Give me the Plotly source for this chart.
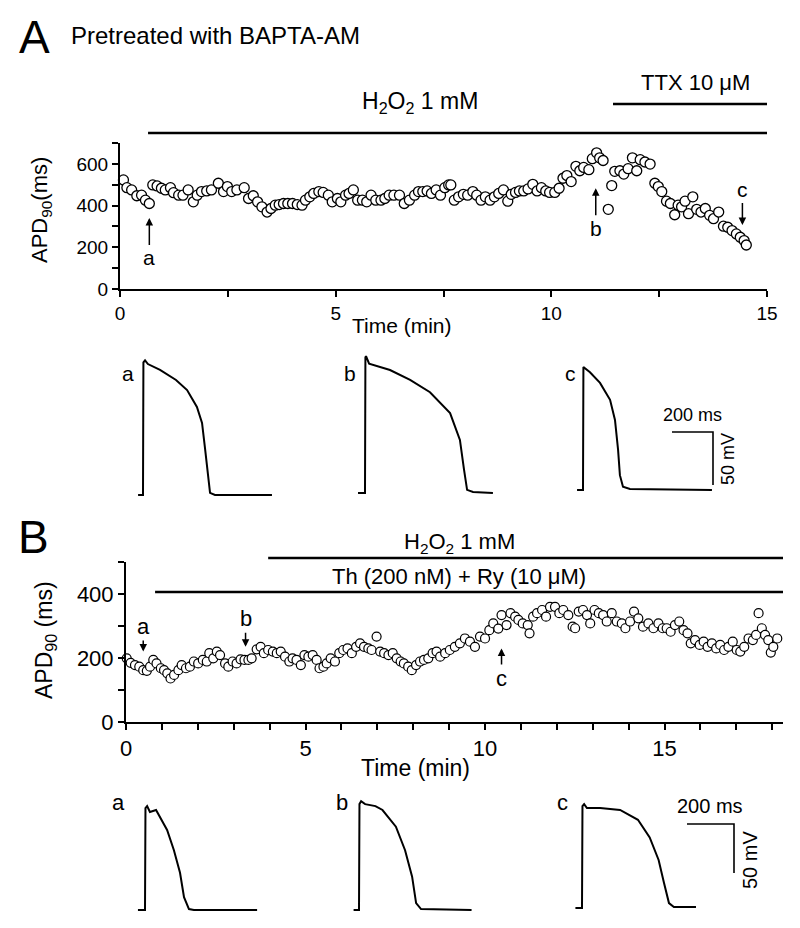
import plotly.graph_objects as go

W, H = 800, 928
FONT = "Liberation Sans, Arial, sans-serif"

# ---------------- data: panel A (APD90 vs time, BAPTA-AM) ----------------
a_time = [0.08, 0.16, 0.27, 0.39, 0.50, 0.59, 0.68, 0.76, 0.86, 0.96, 1.05, 1.17, 1.24, 1.36, 1.46,
          1.58, 1.70, 1.79, 1.89, 2.01, 2.12, 2.28, 2.40, 2.49, 2.59, 2.71, 2.88, 2.98, 3.09, 3.19,
          3.29, 3.41, 3.50, 3.60, 3.69, 3.79, 3.89, 4.00, 4.11, 4.22, 4.30, 4.40, 4.49, 4.61, 4.71,
          4.83, 4.92, 5.04, 5.12, 5.23, 5.31, 5.41, 5.51, 5.62, 5.72, 5.82, 5.93, 6.05, 6.14, 6.24,
          6.35, 6.48, 6.59, 6.71, 6.83, 6.92, 7.02, 7.12, 7.22, 7.33, 7.43, 7.53, 7.62,
          7.67, 7.75, 7.85, 7.96, 8.06, 8.18, 8.27, 8.37, 8.47, 8.58, 8.68, 8.78, 8.89, 8.99, 9.07,
          9.17, 9.26, 9.36, 9.46, 9.57, 9.67, 9.77, 9.87, 9.96, 10.08, 10.18, 10.27, 10.36, 10.46,
          10.57, 10.66, 10.75, 10.87, 10.95, 11.05, 11.12, 11.20, 11.32, 11.40, 11.47, 11.59, 11.68,
          11.78, 11.88, 11.98, 12.06, 12.17, 12.29, 12.40, 12.48, 12.56, 12.67, 12.76, 12.86, 12.94,
          13.02, 13.10, 13.18, 13.28, 13.37, 13.47, 13.57, 13.67, 13.76, 13.88, 13.99, 14.09, 14.19,
          14.29, 14.38, 14.47, 14.52]
a_apd = [523, 486, 475, 447, 450, 426, 410, 499, 494, 483, 475, 486, 462, 450, 450,
         475, 418, 450, 467, 470, 475, 507, 467, 491, 467, 475, 486, 434, 447, 418,
         394, 369, 386, 402, 405, 410, 410, 410, 405, 402, 426, 442, 458, 467, 463,
         450, 418, 434, 418, 450, 458, 475, 426, 426, 418, 450, 426, 426, 434, 450,
         450, 450, 410, 426, 450, 467, 467, 470, 458, 475, 450, 486, 499,
         499, 426, 442, 454, 450, 467, 450, 426, 442, 426, 442, 458, 475, 421, 454,
         463, 470, 470, 480, 502, 470, 486, 470, 463, 463, 483, 531, 544, 515,
         588, 567, 583, 572, 625, 653, 629, 616, 382, 496, 564, 567, 551,
         577, 629, 567, 620, 609, 599, 507, 491, 467, 421, 410, 356, 402,
         394, 421, 361, 442, 382, 369, 386, 353, 337, 369, 301, 296, 280,
         264, 248, 232, 211]

# ---------------- data: panel B (APD90 vs time, Th + Ry) ----------------
b_time = [0.02, 0.13, 0.25, 0.37, 0.48, 0.58, 0.67, 0.76, 0.85, 0.97, 1.06, 1.15, 1.24, 1.34, 1.46,
          1.55, 1.67, 1.78, 1.89, 2.01, 2.14, 2.25, 2.32, 2.43, 2.53, 2.62, 2.76, 2.85, 2.97, 3.08,
          3.19, 3.30, 3.41, 3.50, 3.64, 3.75, 3.84, 3.96, 4.09, 4.20, 4.31, 4.43, 4.55, 4.64, 4.75,
          4.87, 4.97, 5.08, 5.20, 5.31, 5.39, 5.50, 5.59, 5.70, 5.82, 5.94, 6.05, 6.17, 6.29, 6.41,
          6.52, 6.63, 6.75, 6.84, 6.98, 7.08, 7.19, 7.31, 7.43, 7.54, 7.65, 7.74, 7.86, 7.96, 8.08,
          8.19, 8.30, 8.42, 8.54, 8.65,
          8.75, 8.89, 9.02, 9.16, 9.30, 9.44, 9.58, 9.72, 9.86, 10.00, 10.12, 10.23, 10.37, 10.46,
          10.60, 10.71, 10.84, 10.93, 11.05, 11.19, 11.24, 11.34, 11.45, 11.59, 11.70, 11.81, 11.95,
          12.07, 12.18, 12.32, 12.44, 12.51, 12.61, 12.73, 12.84, 12.93, 13.05, 13.17, 13.29, 13.39,
          13.53, 13.67, 13.81, 13.91, 14.04, 14.15, 14.27, 14.40, 14.55, 14.69, 14.83, 14.95, 15.06,
          15.17, 15.29, 15.41, 15.53, 15.64, 15.73, 15.85, 15.98, 16.09, 16.20, 16.32, 16.44, 16.55,
          16.66, 16.78, 16.90, 17.01, 17.11, 17.22, 17.34, 17.46, 17.55, 17.62, 17.71, 17.80, 17.89,
          17.96, 18.03, 18.14]
b_apd = [199, 185, 178, 173, 162, 160, 173, 194, 183, 168, 162, 152, 136, 147, 162,
         178, 168, 173, 189, 183, 194, 189, 215, 199, 220, 209, 183, 173, 189, 183,
         196, 194, 194, 199, 227, 235, 215, 225, 220, 215, 220, 204, 189, 199, 194,
         178, 209, 204, 209, 194, 168, 173, 183, 199, 189, 215, 225, 230, 215, 235,
         246, 235, 230, 225, 267, 220, 215, 209, 215, 199, 189, 183, 173, 162, 178,
         189, 194, 199, 215, 220,
         204, 215, 225, 235, 246, 261, 251, 235, 267, 261, 287, 308, 292, 334,
         303, 340, 329, 319, 308, 303, 277, 329, 340, 350, 329, 360, 360,
         340, 350, 334, 298, 293, 345, 350, 334, 308, 350, 340, 334, 314,
         340, 314, 308, 293, 314, 345, 324, 298, 308, 293, 308, 293, 293,
         282, 303, 314, 287, 277, 246, 256, 241, 251, 235, 246, 230, 241,
         225, 235, 251, 225, 220, 235, 261, 256, 272, 340, 293, 272, 256,
         217, 235, 261]

# ---------------- data: action potential traces (ms, mV) ----------------
REST = -80
apA_a_ms = [-24, 0, 2, 10, 24, 83, 161, 215, 263, 288, 302, 314, 327, 351, 629]
apA_a_mv = [-80, -80, 45, 47, 43.5, 38, 28.5, 19, 3, -12, -35, -59, -78, -80, -80]
apA_b_ms = [-34, 0, 2, 5, 20, 122, 220, 317, 415, 463, 483, 498, 527, 624]
apA_b_mv = [-80, -80, 48, 49, 42, 36, 26.6, 15, -4.6, -30, -58, -77, -79, -80]
apA_c_ms = [-29, 0, 2, 34, 83, 132, 156, 171, 180, 195, 229, 629]
apA_c_mv = [-80, -80, 36, 31, 21, 5, -14, -42, -66, -77, -79, -80]

apB_a_ms = [-30, 0, 2, 9, 21, 47, 94, 123, 149, 166, 187, 208, 477]
apB_a_mv = [-80, -80, 24, 26, 20, 22, 1.6, -19, -42, -67, -79, -80, -80]
apB_b_ms = [-23, 0, 2, 9, 26, 70, 100, 157, 196, 226, 243, 264, 479]
apB_b_mv = [-80, -80, 28, 31, 28, 26, 22, 5, -19, -46, -73, -79, -80]
apB_c_ms = [-28, 0, 2, 9, 21, 77, 162, 238, 288, 326, 349, 370, 391, 485]
apB_c_mv = [-80, -80, 24, 26, 22, 22, 20, 10, -8, -31, -54.5, -75, -79, -79]

SCALE_MS = 200
SCALE_MV = 50


def px(x):
    return x / W


def py(y):
    return 1 - y / H


fig = go.Figure()

marker_A = dict(symbol="circle", size=10, color="white", line=dict(color="black", width=1.3))
marker_B = dict(symbol="circle", size=9, color="white", line=dict(color="black", width=1.2))

fig.add_trace(go.Scatter(x=a_time, y=a_apd, mode="markers", marker=marker_A,
                         xaxis="x", yaxis="y", showlegend=False, cliponaxis=False))
fig.add_trace(go.Scatter(x=b_time, y=b_apd, mode="markers", marker=marker_B,
                         xaxis="x2", yaxis="y2", showlegend=False, cliponaxis=False))

line_style = dict(color="black", width=2)
insets = [
    # axis n, ms list, mv list, x0px, x1px, y_top, y_bottom, upstroke px, baseline py, ms/px, mV/px
    (3, apA_a_ms, apA_a_mv, 130, 300, 340, 505, 143, 495, 4.878, 0.943),
    (4, apA_b_ms, apA_b_mv, 345, 520, 340, 505, 365, 493, 4.878, 0.943),
    (5, apA_c_ms, apA_c_mv, 565, 770, 340, 505, 583, 490, 4.878, 0.943),
    (6, apB_a_ms, apB_a_mv, 130, 300, 790, 918, 145, 910, 4.255, 1.02),
    (7, apB_b_ms, apB_b_mv, 345, 520, 790, 918, 359, 910, 4.255, 1.02),
    (8, apB_c_ms, apB_c_mv, 565, 775, 790, 918, 582, 908, 4.255, 1.02),
]

layout_axes = {}
for n, ms, mv, x0, x1, yt, yb, up, base, mspp, mvpp in insets:
    fig.add_trace(go.Scatter(x=ms, y=mv, mode="lines", line=line_style,
                             xaxis=f"x{n}", yaxis=f"y{n}", showlegend=False,
                             hoverinfo="skip", cliponaxis=False))
    layout_axes[f"xaxis{n}"] = dict(domain=[px(x0), px(x1)],
                                    range=[(x0 - up) * mspp, (x1 - up) * mspp],
                                    visible=False, anchor=f"y{n}", fixedrange=True)
    layout_axes[f"yaxis{n}"] = dict(domain=[py(yb), py(yt)],
                                    range=[REST - (yb - base) * mvpp, REST + (base - yt) * mvpp],
                                    visible=False, anchor=f"x{n}", fixedrange=True)


def scale_bar(n, corner_ms, corner_mv):
    fig.add_trace(go.Scatter(x=[corner_ms - SCALE_MS, corner_ms, corner_ms],
                             y=[corner_mv, corner_mv, corner_mv - SCALE_MV],
                             mode="lines", line=dict(color="black", width=1.6),
                             xaxis=f"x{n}", yaxis=f"y{n}", showlegend=False,
                             hoverinfo="skip", cliponaxis=False))


scale_bar(5, (713 - 583) * 4.878, REST + (490 - 432) * 0.943)
scale_bar(8, (734 - 582) * 4.255, REST + (908 - 824) * 1.02)

axis_common = dict(showline=True, linecolor="black", linewidth=2, ticks="outside",
                   ticklen=6, tickwidth=2, tickcolor="black", showgrid=False,
                   zeroline=False, color="black")

layout = dict(
    width=W, height=H, margin=dict(l=0, r=0, t=0, b=0, autoexpand=False),
    paper_bgcolor="white", plot_bgcolor="rgba(0,0,0,0)",
    font=dict(family=FONT, color="black"),
    xaxis=dict(domain=[px(120), px(767)], range=[0, 15], dtick=5, tick0=0,
               minor=dict(dtick=2.5, ticks="outside", ticklen=6, tickwidth=2, tickcolor="black"),
               tickfont=dict(size=19), anchor="y", **axis_common),
    yaxis=dict(domain=[py(289), py(143)], range=[0, 700], dtick=200, tick0=0,
               minor=dict(dtick=100, ticks="outside", ticklen=6, tickwidth=2, tickcolor="black"),
               tickfont=dict(size=19), anchor="x", **axis_common),
    xaxis2=dict(domain=[px(126), px(783)], range=[0, 18.3], dtick=5, tick0=0,
                minor=dict(dtick=1, ticks="outside", ticklen=6, tickwidth=2, tickcolor="black"),
                tickfont=dict(size=22), anchor="y2", **axis_common),
    yaxis2=dict(domain=[py(722), py(562)], range=[0, 500], dtick=200, tick0=0,
                minor=dict(dtick=100, ticks="outside", ticklen=6, tickwidth=2, tickcolor="black"),
                tickfont=dict(size=22), anchor="x2", **axis_common),
    showlegend=False,
)
layout.update(layout_axes)

shapes = [
    dict(type="line", xref="x", yref="paper", x0=0.65, x1=15.12, y0=py(133), y1=py(133),
         line=dict(color="black", width=2.5)),
    dict(type="line", xref="x", yref="paper", x0=11.43, x1=15.12, y0=py(104), y1=py(104),
         line=dict(color="black", width=2.5)),
    dict(type="line", xref="x2", yref="paper", x0=3.96, x1=18.3, y0=py(558), y1=py(558),
         line=dict(color="black", width=2.5)),
    dict(type="line", xref="x2", yref="paper", x0=0.81, x1=18.3, y0=py(592), y1=py(592),
         line=dict(color="black", width=2.5)),
]
layout["shapes"] = shapes


def txt(x, y, text, size, xanchor="center", yanchor="middle", angle=0):
    return dict(x=px(x), y=py(y), xref="paper", yref="paper", text=text, showarrow=False,
                font=dict(size=size, family=FONT, color="black"), xanchor=xanchor,
                yanchor=yanchor, textangle=angle)


def arrow(xr, yr, x, y, label, ay, size=21):
    return dict(x=x, y=y, xref=xr, yref=yr, text=label, showarrow=True, ax=0, ay=ay,
                arrowhead=2, arrowsize=1, arrowwidth=1.5, arrowcolor="black",
                font=dict(size=size, family=FONT, color="black"))


H2O2 = "H<sub>2</sub>O<sub>2</sub> 1 mM"
annotations = [
    txt(34, 37, "A", 46),
    txt(69, 35, "Pretreated with BAPTA-AM", 24, xanchor="left"),
    txt(480, 102, H2O2, 23, xanchor="right"),
    txt(752, 82, "TTX 10 μM", 22, xanchor="right"),
    txt(41, 210, "APD<sub>90</sub>(ms)", 22, angle=-90),
    txt(402, 326, "Time (min)", 21),
    arrow("x", "y", 0.68, 341, "a", 40),
    arrow("x", "y", 11.03, 483, "b", 40),
    arrow("x", "y", 14.43, 307, "c", -35),
    txt(128, 373, "a", 21),
    txt(350, 373, "b", 21),
    txt(570, 373, "c", 21),
    txt(692, 415, "200 ms", 18),
    txt(728, 459, "50 mV", 18, angle=-90),

    txt(33, 537, "B", 46),
    txt(517, 543, H2O2, 22, xanchor="right"),
    txt(588, 576, "Th (200 nM) + Ry (10 μM)", 22, xanchor="right"),
    txt(45, 640, "APD<sub>90</sub> (ms)", 23, angle=-90),
    txt(415, 768, "Time (min)", 23),
    arrow("x2", "y2", 0.48, 220, "a", -25, 22),
    arrow("x2", "y2", 3.33, 235, "b", -28, 22),
    arrow("x2", "y2", 10.46, 230, "c", 30, 22),
    txt(118, 802, "a", 22),
    txt(342, 802, "b", 22),
    txt(562, 802, "c", 22),
    txt(710, 806, "200 ms", 20),
    txt(750, 860, "50 mV", 20, angle=-90),
]
layout["annotations"] = annotations

fig.update_layout(**layout)
fig.write_html("out.html", config={"displayModeBar": False},
               post_script="document.body.style.margin='0';document.body.style.overflow='hidden';")
